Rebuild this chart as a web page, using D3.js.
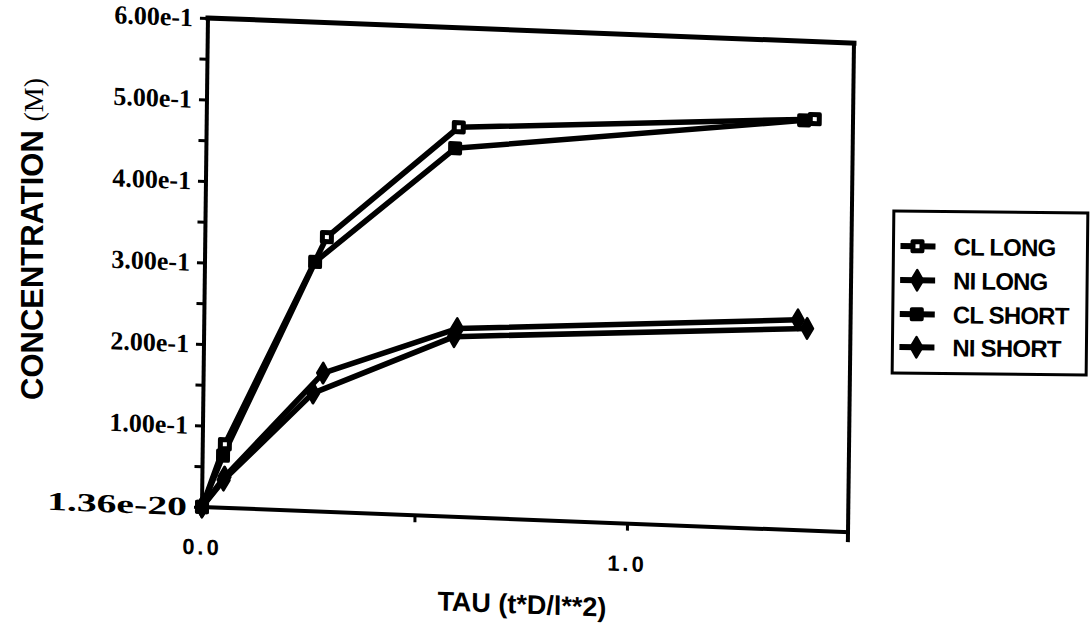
<!DOCTYPE html>
<html>
<head>
<meta charset="utf-8">
<script src="https://cdn.jsdelivr.net/npm/d3@7"></script>
<style>
  html, body { margin: 0; padding: 0; background: #fff; }
  svg { display: block; }
</style>
</head>
<body>
<svg id="chart" width="1092" height="639"></svg>
<script>
// Series: dimensionless time TAU and concentration (M)
const clLongTau   = [0, 0.052, 0.286, 0.593, 1.430];
const clLong      = [0, 0.078, 0.337, 0.478, 0.505];
const niLongTau   = [0, 0.052, 0.281, 0.595, 1.396];
const niLong      = [0, 0.038, 0.170, 0.231, 0.258];
const clShortTau  = [0, 0.048, 0.259, 0.585, 1.405];
const clShort     = [0, 0.064, 0.306, 0.452, 0.503];
const niShortTau  = [0, 0.050, 0.258, 0.588, 1.418];
const niShort     = [0, 0.034, 0.145, 0.221, 0.248];

const seriesNames = ["CL LONG", "NI LONG", "CL SHORT", "NI SHORT"];
const yTickValues = [0, 0.1, 0.2, 0.3, 0.4, 0.5, 0.6];
const yTickLabels = ["1.36e-20", "1.00e-1", "2.00e-1", "3.00e-1", "4.00e-1", "5.00e-1", "6.00e-1"];
const xTickValues = [0, 1.0];
const xTickLabels = ["0.0", "1.0"];

const series = [
  { name: seriesNames[0], tau: clLongTau,  conc: clLong,  marker: "openSquare" },
  { name: seriesNames[1], tau: niLongTau,  conc: niLong,  marker: "diamond" },
  { name: seriesNames[2], tau: clShortTau, conc: clShort, marker: "square" },
  { name: seriesNames[3], tau: niShortTau, conc: niShort, marker: "diamond" }
];

const svg = d3.select("#chart");
const W = 646, H = 489;              // plot frame size
const ox = 202, oy = 507;            // plot origin on the page

const x = d3.scaleLinear().domain([0, 1.52]).range([0, W]);
const y = d3.scaleLinear().domain([0, 0.6]).range([0, -H]);

// the whole plot frame sits slightly askew on the page
const plot = svg.append("g")
  .attr("transform", `translate(${ox},${oy}) matrix(1,0.039,-0.0122,1,0,0)`);

// frame
const frame = plot.append("g").attr("fill", "none").attr("stroke", "#000").attr("stroke-linecap", "square");
frame.append("line").attr("x1", 0).attr("y1", y(0.6)).attr("x2", W).attr("y2", y(0.6)).attr("stroke-width", 5);
frame.append("line").attr("x1", 0).attr("y1", y(0.6)).attr("x2", 0).attr("y2", 6).attr("stroke-width", 4);
frame.append("line").attr("x1", 0).attr("y1", 0).attr("x2", W).attr("y2", 0).attr("stroke-width", 4);
frame.append("line").attr("x1", W).attr("y1", y(0.6)).attr("x2", W).attr("y2", 8).attr("stroke-width", 4);

// y axis: ticks every 0.05, labels at each 0.1
const yAxis = d3.axisLeft(y)
  .tickValues(d3.range(0, 0.6001, 0.05))
  .tickSize(8)
  .tickPadding(7)
  .tickFormat(d => {
    const i = yTickValues.findIndex(v => Math.abs(v - d) < 1e-6);
    return i >= 0 ? yTickLabels[i] : "";
  });
const gy = plot.append("g").call(yAxis);
gy.select(".domain").remove();
gy.selectAll(".tick line").attr("stroke", "#000").attr("stroke-width", 3);
gy.selectAll(".tick text")
  .attr("fill", "#000")
  .style("font-family", "'Liberation Serif', serif")
  .style("font-weight", "bold")
  .style("font-size", "26px")
  .each(function(d) {
    // the bottom label is set wider than the others
    if (d === 0) d3.select(this).attr("textLength", 140).attr("lengthAdjust", "spacingAndGlyphs");
  });

// x axis: ticks at 0.5 steps, labels at 0.0 and 1.0
const xAxis = d3.axisBottom(x)
  .tickValues([0, 0.5, 1.0])
  .tickSize(7)
  .tickPadding(25)
  .tickFormat(d => {
    const i = xTickValues.findIndex(v => Math.abs(v - d) < 1e-6);
    return i >= 0 ? xTickLabels[i] : "";
  });
const gx = plot.append("g").call(xAxis);
gx.select(".domain").remove();
gx.selectAll(".tick line").attr("stroke", "#000").attr("stroke-width", 3);
gx.selectAll(".tick text")
  .attr("fill", "#000")
  .style("font-family", "'Liberation Sans', Arial, sans-serif")
  .style("font-weight", "bold")
  .style("font-size", "22px")
  .style("letter-spacing", "3px");

// x axis title
plot.append("text")
  .attr("x", 321).attr("y", 94)
  .attr("text-anchor", "middle")
  .style("font-family", "'Liberation Sans', Arial, sans-serif")
  .style("font-weight", "bold")
  .style("font-size", "27px")
  .text("TAU (t*D/l**2)");

// data lines
const line = d3.line().x(d => x(d[0])).y(d => y(d[1]));
series.forEach(s => {
  const pts = s.tau.map((t, i) => [t, s.conc[i]]);
  plot.append("path")
    .datum(pts)
    .attr("d", line)
    .attr("fill", "none")
    .attr("stroke", "#000")
    .attr("stroke-width", 5.5)
    .attr("stroke-linejoin", "round");
});

// markers
function drawMarker(g, kind, cx, cy) {
  if (kind === "square" || kind === "openSquare") {
    g.append("rect")
      .attr("x", cx - 7).attr("y", cy - 7).attr("width", 14).attr("height", 14)
      .attr("rx", 2).attr("fill", "#000");
    if (kind === "openSquare") {
      g.append("rect")
        .attr("x", cx - 2).attr("y", cy - 2).attr("width", 4).attr("height", 4)
        .attr("fill", "#fff");
    }
  } else {
    g.append("path")
      .attr("transform", `translate(${cx},${cy})`)
      .attr("d", d3.symbol().type(d3.symbolDiamond).size(120)())
      .attr("fill", "#000")
      .attr("stroke", "#000").attr("stroke-width", 2.5).attr("stroke-linejoin", "round");
  }
}
const marks = plot.append("g");
series.forEach(s => {
  s.tau.forEach((t, i) => drawMarker(marks, s.marker, x(t), y(s.conc[i])));
});

// y axis title
svg.append("text")
  .attr("transform", "translate(43,400) rotate(-90)")
  .attr("text-anchor", "start")
  .style("font-family", "'Liberation Sans', Arial, sans-serif")
  .style("font-size", "31px")
  .call(t => {
    t.append("tspan").style("font-weight", "bold").text("CONCENTRATION ");
    t.append("tspan").style("font-family", "'Liberation Serif', serif").style("font-size", "28px").text("(M)");
  });

// legend
const legend = svg.append("g").attr("transform", "rotate(0.6,990,293)");
legend.append("rect")
  .attr("x", 893).attr("y", 212).attr("width", 194).attr("height", 162)
  .attr("fill", "#fff").attr("stroke", "#000").attr("stroke-width", 3);
const rowY = [247, 281, 315, 348];
series.forEach((s, i) => {
  const ry = rowY[i];
  legend.append("line")
    .attr("x1", 900).attr("x2", 935).attr("y1", ry).attr("y2", ry)
    .attr("stroke", "#000").attr("stroke-width", 6);
  drawMarker(legend, s.marker, 917, ry);
  legend.append("text")
    .attr("x", 953).attr("y", ry).attr("dy", "0.36em")
    .style("font-family", "'Liberation Sans', Arial, sans-serif")
    .style("font-weight", "bold")
    .style("font-size", "24px")
    .style("letter-spacing", "-0.8px")
    .text(s.name);
});
</script>
</body>
</html>
